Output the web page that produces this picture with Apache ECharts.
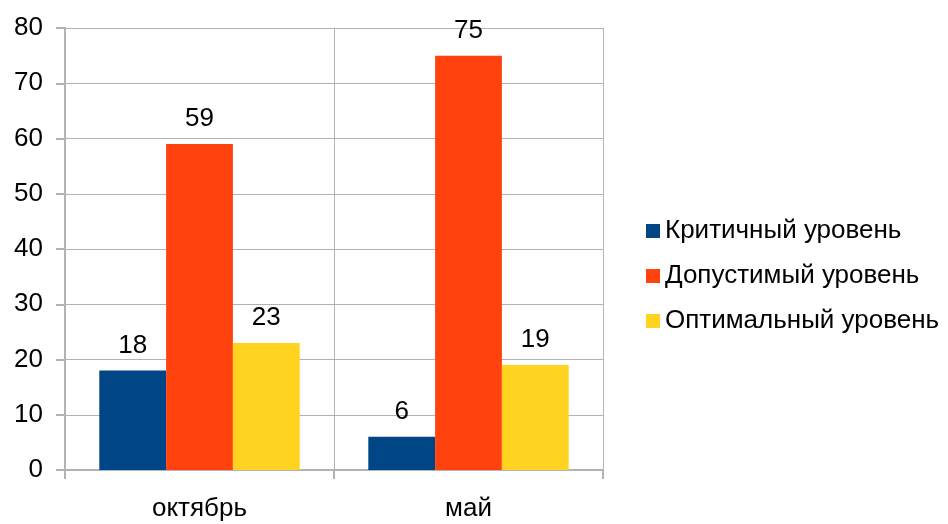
<!DOCTYPE html>
<html lang="ru">
<head>
<meta charset="UTF-8">
<title>Уровни</title>
<script src="https://cdn.jsdelivr.net/npm/echarts@6/dist/echarts.min.js"></script>
<style>
  html, body { margin: 0; padding: 0; background: #fff; }
  #main { width: 948px; height: 524px; }
</style>
</head>
<body>
<div id="main"></div>
<script>
var categories = ['октябрь', 'май'];
var seriesNames = ['Критичный уровень', 'Допустимый уровень', 'Оптимальный уровень'];
var critical = [18, 6];
var allowed = [59, 75];
var optimal = [23, 19];
var colors = ['#004586', '#ff420e', '#ffd320'];

var font = 'Liberation Sans, Arial, sans-serif';
var values = [critical, allowed, optimal];

var series = [];
for (var i = 0; i < seriesNames.length; i++) {
  series.push({
    name: seriesNames[i],
    type: 'bar',
    data: values[i],
    barGap: '0%',
    barCategoryGap: '25.5%',
    itemStyle: { color: colors[i] },
    label: {
      show: true,
      position: 'top',
      distance: 12,
      color: '#000',
      fontSize: 26,
      fontFamily: font
    }
  });
}

var chart = echarts.init(document.getElementById('main'));
chart.setOption({
  animation: false,
  textStyle: { fontFamily: font },
  grid: { left: 65, right: 345, top: 28, bottom: 54 },
  legend: {
    orient: 'vertical',
    left: 641,
    top: 213,
    itemWidth: 14,
    itemHeight: 14,
    itemGap: 19,
    icon: 'rect',
    textStyle: { fontSize: 26, color: '#000', fontFamily: font },
    data: seriesNames
  },
  xAxis: {
    type: 'category',
    data: categories,
    axisLine: { lineStyle: { color: '#b3b3b3', width: 2 } },
    axisTick: { show: true, length: 9, lineStyle: { color: '#b3b3b3', width: 2 } },
    splitLine: { show: true, lineStyle: { color: '#b3b3b3', width: 1 } },
    axisLabel: { fontSize: 26, color: '#000', margin: 26, fontFamily: font }
  },
  yAxis: {
    type: 'value',
    min: 0,
    max: 80,
    interval: 10,
    axisLine: { show: true, lineStyle: { color: '#b3b3b3', width: 2 } },
    axisTick: { show: true, length: 9, lineStyle: { color: '#b3b3b3', width: 2 } },
    splitLine: { show: true, lineStyle: { color: '#b3b3b3', width: 1 } },
    axisLabel: { fontSize: 26, color: '#000', margin: 22, fontFamily: font }
  },
  series: series
});
</script>
</body>
</html>
